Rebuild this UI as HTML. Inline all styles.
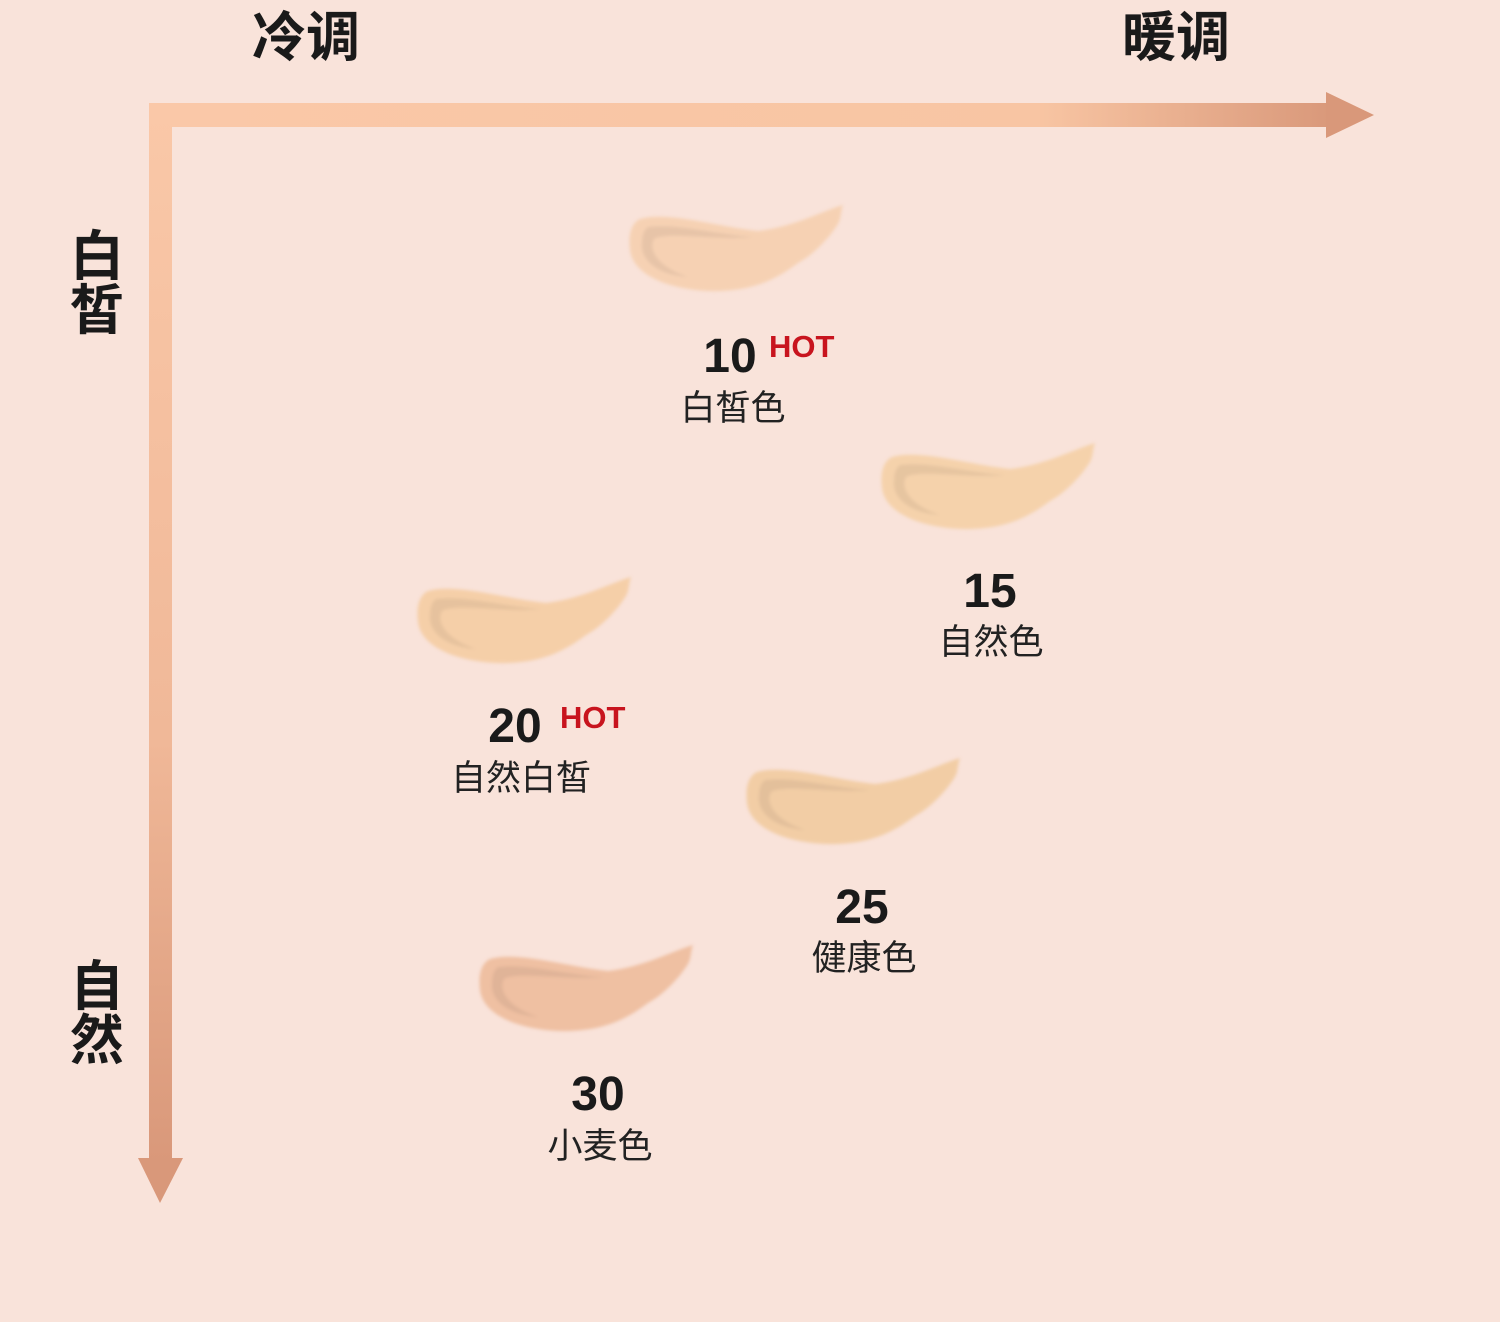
<!DOCTYPE html>
<html><head><meta charset="utf-8"><style>
body{margin:0;width:1500px;height:1322px;background:#f9e3da;overflow:hidden;position:relative;font-family:"Liberation Sans","Noto Sans CJK SC",sans-serif}
.t{position:absolute;white-space:nowrap;color:#1a1a1a}
.ax{font-size:54px;font-weight:bold;font-family:"Noto Sans CJK SC",sans-serif;line-height:1}
.n{font-size:48px;font-weight:bold;line-height:1;transform:translateX(-50%)}
.c{font-size:35px;font-family:"Noto Sans CJK SC",sans-serif;line-height:1;transform:translateX(-50%);color:#222}
.h{font-size:31px;font-weight:bold;color:#c8141e;line-height:1}
</style></head><body>
<svg width="1500" height="1322" style="position:absolute;left:0;top:0">
<defs>
<linearGradient id="gh" x1="0" x2="1"><stop offset="0" stop-color="#fac8a8"/><stop offset="0.75" stop-color="#f8c5a3"/><stop offset="1" stop-color="#d9987a"/></linearGradient>
<linearGradient id="gv" x1="0" y1="0" x2="0" y2="1"><stop offset="0" stop-color="#fac8a8"/><stop offset="0.6" stop-color="#f0b898"/><stop offset="1" stop-color="#d9987a"/></linearGradient>
<filter id="b"><feGaussianBlur stdDeviation="1.5"/></filter>
<g id="sw">
<path d="M12,14 C40,6 90,22 130,26 C165,22 195,6 215,0 C212,8 214,14 208,22 C200,34 185,50 170,58 C145,77 120,87 80,86 C40,84 5,70 2,45 C0,28 4,18 12,14 Z"/>
<path d="M20,22 C50,18 90,30 125,32 C90,36 40,26 26,34 C20,45 30,62 60,72 C30,70 12,55 14,38 C14,30 16,25 20,22Z" fill="#000" opacity="0.06"/>
</g>
</defs>
<rect x="149" y="103" width="1185" height="24" fill="url(#gh)"/>
<polygon points="1326,92 1374,115 1326,138" fill="#d9987a"/>
<rect x="149" y="103" width="23" height="1060" fill="url(#gv)"/>
<polygon points="138,1158 183,1158 160,1203" fill="#d9987a"/>
<g filter="url(#b)">
<use href="#sw" x="628" y="205" fill="#f6d1b3"/>
<use href="#sw" x="880" y="443" fill="#f5d2ab"/>
<use href="#sw" x="416" y="577" fill="#f5cfa8"/>
<use href="#sw" x="745" y="758" fill="#f2cda5"/>
<use href="#sw" x="478" y="945" fill="#efc0a2"/>
</g>
</svg>
<div class="t ax" style="left:252px;top:6px">冷调</div>
<div class="t ax" style="left:1122px;top:6px">暖调</div>
<div class="t ax" style="left:70px;top:225px;width:54px">白<br>皙</div>
<div class="t ax" style="left:70px;top:955px;width:54px">自<br>然</div>

<div class="t n" style="left:730px;top:333px">10</div>
<div class="t h" style="left:769px;top:331px">HOT</div>
<div class="t c" style="left:733px;top:388px">白皙色</div>

<div class="t n" style="left:990px;top:568px">15</div>
<div class="t c" style="left:991px;top:622px">自然色</div>

<div class="t n" style="left:515px;top:703px">20</div>
<div class="t h" style="left:560px;top:702px">HOT</div>
<div class="t c" style="left:521px;top:758px">自然白皙</div>

<div class="t n" style="left:862px;top:884px">25</div>
<div class="t c" style="left:864px;top:938px">健康色</div>

<div class="t n" style="left:598px;top:1071px">30</div>
<div class="t c" style="left:600px;top:1126px">小麦色</div>
</body></html>
